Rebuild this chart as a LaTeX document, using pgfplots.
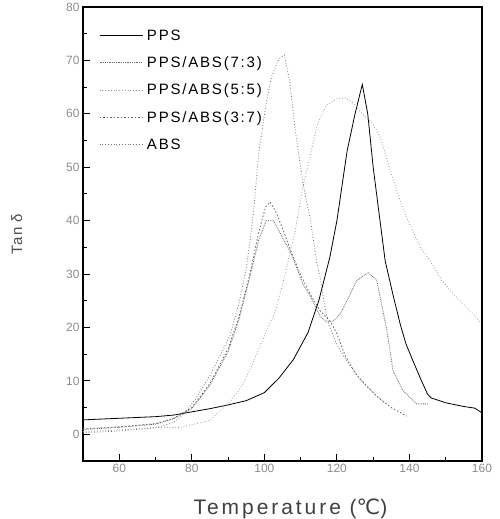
\documentclass[border=0pt]{standalone}
\usepackage{fontspec}
\setmainfont{Liberation Sans}
\newfontfamily\djv{DejaVu Sans}
\usepackage{pgfplots}
\pgfplotsset{compat=1.18}

\begin{document}
\begin{tikzpicture}
\path[use as bounding box] (-83pt,-58pt) rectangle (416pt,461pt);
\begin{axis}[
    at={(0,0)}, anchor=south west,
    scale only axis,
    width=399pt, height=454pt,
    xmin=50, xmax=160, ymin=-5, ymax=80,
    xtick={60,80,...,160}, minor xtick={50,70,...,150},
    ytick={0,10,...,80}, minor ytick={-5,5,...,75},
    xtick pos=bottom, ytick pos=left,
    tick align=inside,
    major tick length=7pt, minor tick length=4pt,
    every tick/.style={black, line width=1pt},
    axis line style={line width=1.3pt},
    tick label style={font=\fontsize{12}{12}\selectfont, text=black!45},
    /pgf/number format/assume math mode=true,
    xlabel={\addfontfeature{LetterSpace=14}Temperature ({\djv ℃})},
    ylabel={\addfontfeature{LetterSpace=8}Tan δ},
    xlabel style={font=\fontsize{21}{21}\selectfont, text=black!75, yshift=-19pt, xshift=8pt},
    ylabel style={font=\fontsize{15}{15}\selectfont, text=black!70, yshift=37pt},
    legend style={draw=none, fill=none, at={(0.04,0.955)}, anchor=north west,
        font=\fontsize{15}{15}\selectfont\addfontfeature{LetterSpace=12},
        row sep=11pt, inner sep=0pt},
    legend cell align=left,
    every axis plot/.append style={line width=0.8pt,
        legend image code/.code={\draw[##1] (0pt,0pt) -- (43pt,0pt); \path (45pt,0pt);}},
]
% PPS
\addplot[black, solid] coordinates {
(50,2.7) (60,3.0) (70,3.3) (75,3.6) (80,4.2) (85,4.8) (90,5.5) (95,6.3) (100,7.8)
(104,10.5) (108,14) (112,19) (115,25) (118,33) (120,40) (122.8,53) (125,60)
(127,65.5) (128.5,60) (130,50) (131.5,42) (133.3,32.5) (135.5,26) (137.5,20.5)
(139,17) (141,13.7) (143,10.5) (145,7.5) (146,6.8) (150,5.9) (155,5.2) (158,4.9) (159.8,4.1)
};
\addlegendentry{PPS}
% 7:3
\addplot[black!60, densely dotted] coordinates {
(50,0.9) (60,1.3) (70,1.9) (75,2.9) (80,4.8) (85,9.2) (90,15.5) (93,21.5) (96,29.5)
(98.5,36.5) (100.5,40) (102.5,40) (104.5,37.5) (107.6,33.5) (110.7,28) (112.6,26)
(115.4,22) (117.2,21) (119,21.2) (120.9,22.5) (123.7,26.3) (125.5,28.8) (128.6,30.3)
(131,28.8) (133.8,19.4) (135.5,11.8) (138.3,8.1) (142,5.7) (145,5.7)
};
\addlegendentry{PPS/ABS(7:3)}
% 5:5
\addplot[black!40, dotted] coordinates {
(50,0.5) (60,0.8) (70,1.3) (77,1.3) (80,1.8) (85,2.6) (90.6,6.2) (93.3,8.5) (96,12)
(98.8,16.5) (101,20) (103,23) (105,28) (108.5,38) (110.5,46) (112.6,52) (114.6,58)
(117,61.5) (120,62.8) (122.3,63) (124.5,62) (127,60) (130,58) (132,55.6) (134.7,49.4)
(138.3,42) (143,35) (145.7,32.5) (149,28.7) (153,25.6) (157.6,22.5) (159.5,21)
};
\addlegendentry{PPS/ABS(5:5)}
% 3:7
\addplot[black!60, dash pattern=on 1.5pt off 2pt] coordinates {
(50,1.0) (60,1.4) (70,2) (75,3) (80,5) (85,9.5) (90,16) (93,22) (96,30) (98.5,38)
(100.3,42.5) (101.6,43.5) (103.4,41.3) (105.2,38.2) (107.6,33.8) (110.3,29.4)
(112.6,26.3) (115.4,23.1) (118.1,21.2) (120,18.8) (122.3,14.7) (125,11.5) (126.9,10)
(128.3,9) (131,7.1) (135,5) (139.3,3.4)
};
\addlegendentry{PPS/ABS(3:7)}
% ABS
\addplot[black!55, dotted] coordinates {
(50,0.3) (60,0.6) (70,1.2) (75,2.2) (78,4) (81,6.6) (85,11) (88,15) (90.5,18.5)
(93,24.5) (95,31) (96.6,39) (97.6,46) (98.5,53) (100.5,62) (102,67) (104,70.3)
(105.5,71) (107,66) (108.5,57) (110,50) (111.2,45) (112.6,40.6) (114.5,32)
(115.4,29.3) (116.5,24.5) (117.8,20.5) (119.5,17.5) (121.5,15) (124,12.5)
(127,9.8) (130,7.8) (133,6)
};
\addlegendentry{ABS}
\end{axis}
\end{tikzpicture}
\end{document}
